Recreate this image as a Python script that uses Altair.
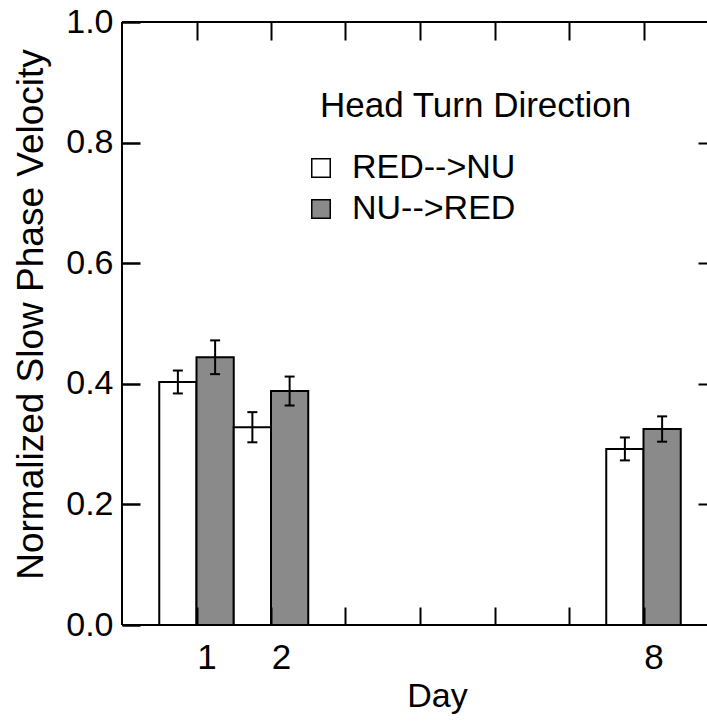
import altair as alt
import pandas as pd

# Days printed on the axis and the axis slot each one occupies
day_labels = ["1", "2", "8"]
day_slots = [1, 2, 7]

directions = ["RED-->NU", "NU-->RED"]
fill_colors = ["#ffffff", "#8a8a8a"]

# Mean normalized slow phase velocity and its error per day
red_to_nu_mean = [0.403, 0.328, 0.292]
red_to_nu_err = [0.019, 0.025, 0.019]
nu_to_red_mean = [0.444, 0.388, 0.325]
nu_to_red_err = [0.028, 0.024, 0.021]

y_ticks = [0.0, 0.2, 0.4, 0.6, 0.8, 1.0]
y_inner_ticks = [0.2, 0.4, 0.6, 0.8]
x_ticks = [1, 2, 3, 4, 5, 6, 7]

# Frame edges in data units
frame_levels = [0.0, 1.0]
frame_left = [0.0]

BAR_W = 0.5          # width of one bar in axis units
PLOT_W, PLOT_H = 585, 603
UNIT_PX = 74.5       # pixels per axis unit
X_MAX = PLOT_W / UNIT_PX
TICK_LEN = 18
FONT = "Liberation Sans, Arial, Helvetica, sans-serif"

rows = []
for day, slot, m1, e1, m2, e2 in zip(day_labels, day_slots, red_to_nu_mean,
                                      red_to_nu_err, nu_to_red_mean, nu_to_red_err):
    for i, (direction, m, e) in enumerate([(directions[0], m1, e1), (directions[1], m2, e2)]):
        x0 = slot - BAR_W + i * BAR_W
        rows.append({"day": day, "direction": direction, "x0": x0, "x1": x0 + BAR_W,
                     "xc": x0 + BAR_W / 2, "mean": m, "lo": m - e, "hi": m + e})
df = pd.DataFrame(rows)

# Tick labels only at the slots that carry a day
label_expr = "''"
for slot, day in reversed(list(zip(day_slots, day_labels))):
    label_expr = f"datum.value == {slot} ? '{day}' : ({label_expr})"

x_scale = alt.Scale(domain=[0, X_MAX], nice=False, zero=False)
y_scale = alt.Scale(domain=[0, 1], nice=False)

tick_style = dict(tickColor="black", tickWidth=2, domain=False, grid=False,
                  ticks=True, zindex=1)

bottom_axis = alt.Axis(
    orient="bottom", values=x_ticks, offset=-TICK_LEN, tickSize=TICK_LEN, **tick_style,
    labelExpr=label_expr, labelFont=FONT, labelFontSize=35, labelColor="black",
    labelPadding=15, labelOffset=10, labelFlush=False, labelOverlap=False,
    title="Day", titleFont=FONT, titleFontSize=34, titleFontWeight="normal",
    titleColor="black", titleX=315, titleY=99, titleBaseline="alphabetic",
    titleAlign="center",
)
left_axis = alt.Axis(
    orient="left", values=y_ticks, offset=-TICK_LEN, tickSize=TICK_LEN,
    tickColor="#000000", tickWidth=2.5, domain=False, grid=False, ticks=True, zindex=1,
    format=".1f", labelFont=FONT, labelFontSize=34, labelColor="black",
    labelPadding=9, labelFlush=False, labelOverlap=False,
    title="Normalized Slow Phase Velocity", titleFont=FONT, titleFontSize=37,
    titleFontWeight="normal", titleColor="black", titleX=-98, titleY=292,
    titleAngle=270, titleBaseline="alphabetic", titleAlign="center",
)
top_axis = alt.Axis(orient="top", values=x_ticks, offset=-TICK_LEN, tickSize=TICK_LEN,
                    **tick_style, labels=False, title=None)
right_axis = alt.Axis(orient="right", values=y_inner_ticks, offset=-9, tickSize=9,
                      **tick_style, labels=False, title=None)

legend = alt.Legend(
    title=None, orient="none", legendX=182, legendY=129,
    direction="vertical", symbolType="square", symbolSize=342,
    symbolStrokeColor="black", symbolStrokeWidth=1.5,
    symbolOpacity=1, labelFont=FONT, labelFontSize=34, labelColor="black",
    labelOffset=14, labelLimit=400, rowPadding=7, padding=0,
)

bars = alt.Chart(df).mark_bar(stroke="black", strokeWidth=2).encode(
    x=alt.X("x0:Q", scale=x_scale, axis=bottom_axis),
    x2="x1:Q",
    y=alt.Y("mean:Q", scale=y_scale, axis=left_axis),
    y2=alt.datum(0),
    color=alt.Color("direction:N", sort=directions,
                    scale=alt.Scale(domain=directions, range=fill_colors),
                    legend=legend),
)

whiskers = alt.Chart(df).mark_rule(color="black", strokeWidth=2).encode(
    x=alt.X("xc:Q", scale=x_scale, axis=top_axis),
    y=alt.Y("lo:Q", scale=y_scale, axis=right_axis),
    y2="hi:Q",
)

caps_lo = alt.Chart(df).mark_tick(orient="horizontal", size=10, thickness=2,
                                  color="black", opacity=1).encode(
    x=alt.X("xc:Q", scale=x_scale, axis=None),
    y=alt.Y("lo:Q", scale=y_scale, axis=None),
)
caps_hi = alt.Chart(df).mark_tick(orient="horizontal", size=10, thickness=2,
                                  color="black", opacity=1).encode(
    x=alt.X("xc:Q", scale=x_scale, axis=None),
    y=alt.Y("hi:Q", scale=y_scale, axis=None),
)

frame_h = alt.Chart(pd.DataFrame({"level": frame_levels})).mark_rule(
    color="black", strokeWidth=2).encode(
    y=alt.Y("level:Q", scale=y_scale, axis=None),
)
frame_v = alt.Chart(pd.DataFrame({"pos": frame_left})).mark_rule(
    color="black", strokeWidth=2).encode(
    x=alt.X("pos:Q", scale=x_scale, axis=None),
)

chart = (
    alt.layer(bars, whiskers, caps_lo, caps_hi, frame_h, frame_v)
    .resolve_axis(x="independent", y="independent")
    .properties(
        width=PLOT_W, height=PLOT_H,
        autosize=alt.AutoSizeParams(type="none"),
        padding={"left": 122, "top": 22, "right": 0, "bottom": 724 - 22 - PLOT_H},
        background="white",
        title=alt.TitleParams(
            "Head Turn Direction", anchor="start", frame="group", orient="top",
            baseline="top", offset=0, dx=198, dy=119, font=FONT, fontSize=35,
            fontWeight="normal", color="black", limit=500,
        ),
    )
    .configure_view(stroke=None)
)

chart.save("out.html", embed_options={"renderer": "svg", "actions": False})
